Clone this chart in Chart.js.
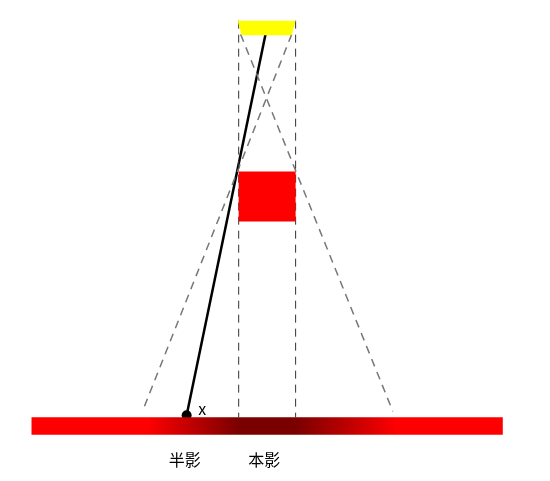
<!DOCTYPE html>
<html><head><meta charset="utf-8">
<script src="https://cdn.jsdelivr.net/npm/chart.js@4"></script>
<style>html,body{margin:0;background:#fff}#c{display:block}</style>
</head><body>
<div style="width:550px;height:481px"><canvas id="c"></canvas></div>
<script>
// diagram coordinates (x to the right, y downward like the picture)
const lightX = [237, 296, 292, 241];
const lightY = [16, 16, 31, 31];
const blockX = [238, 296, 296, 238];
const blockY = [170, 170, 221, 221];
const screenX = [27, 507, 507, 27];
const screenY = [421, 421, 439, 439];
const umbraEdges = [238, 296];
const penumbraLeft = [[240, 30], [395, 415]];
const penumbraRight = [[292, 30], [140, 415]];
const ray = [[267, 22], [185, 419]];
const labels = [
  { text: "x", x: 201, y: 412 },
  { text: "半影", x: 183, y: 465 },
  { text: "本影", x: 264, y: 465 }
];

const pts = (xs, ys) => xs.map((x, i) => ({ x, y: ys[i] }));
const seg = p => p.map(([x, y]) => ({ x, y }));

function screenGradient(ctx) {
  const chart = ctx.chart;
  if (!chart.chartArea) return "red";
  const sx = chart.scales.x;
  const g = chart.ctx.createLinearGradient(sx.getPixelForValue(27), 0, sx.getPixelForValue(507), 0);
  const at = v => (v - 27) / 480;
  g.addColorStop(0, "#ff0000");
  g.addColorStop(at(145), "#ff0000");
  g.addColorStop(at(238), "#7a0000");
  g.addColorStop(at(296), "#7a0000");
  g.addColorStop(at(400), "#ff0000");
  g.addColorStop(1, "#ff0000");
  return g;
}

const poly = (data, color) => ({ data, showLine: true, fill: "shape", backgroundColor: color,
  borderColor: color, borderWidth: 0, pointRadius: 0, tension: 0 });
const dashed = (data, color, w) => ({ data, showLine: true, fill: false, borderColor: color,
  borderWidth: w, borderDash: [8, 6], pointRadius: 0 });

const textPlugin = {
  id: "texts",
  afterDatasetsDraw(chart) {
    const { ctx, scales } = chart;
    ctx.save();
    ctx.fillStyle = "#000";
    ctx.font = "16px 'Noto Sans CJK SC', sans-serif";
    ctx.textAlign = "center";
    ctx.textBaseline = "middle";
    labels.forEach(l => ctx.fillText(l.text, scales.x.getPixelForValue(l.x), scales.y.getPixelForValue(l.y)));
    ctx.restore();
  }
};

new Chart(document.getElementById("c"), {
  type: "scatter",
  data: {
    datasets: [
      poly(pts(screenX, screenY), screenGradient),
      poly(pts(lightX, lightY), "#ffff00"),
      poly(pts(blockX, blockY), "#ff0000"),
      dashed([{ x: umbraEdges[0], y: 16 }, { x: umbraEdges[0], y: 421 }], "#333", 1),
      dashed([{ x: umbraEdges[1], y: 16 }, { x: umbraEdges[1], y: 421 }], "#333", 1),
      dashed(seg(penumbraLeft), "#777", 1.5),
      dashed(seg(penumbraRight), "#777", 1.5),
      { data: seg(ray), showLine: true, borderColor: "#000", borderWidth: 2.5,
        pointRadius: [0, 5], pointBackgroundColor: "#000", pointBorderWidth: 0 }
    ]
  },
  options: {
    responsive: true, maintainAspectRatio: false, animation: false,
    layout: { padding: 0 },
    plugins: { legend: { display: false }, tooltip: { enabled: false } },
    scales: {
      x: { type: "linear", min: 0, max: 550, display: false },
      y: { type: "linear", min: 0, max: 481, reverse: true, display: false }
    }
  },
  plugins: [textPlugin]
});
</script>
</body></html>
